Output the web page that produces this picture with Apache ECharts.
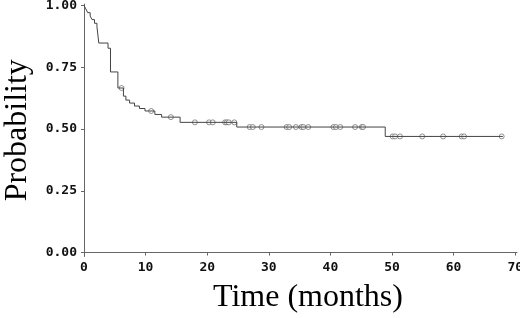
<!DOCTYPE html>
<html>
<head>
<meta charset="utf-8">
<script src="https://cdn.jsdelivr.net/npm/echarts@6/dist/echarts.min.js"></script>
<style>
  html, body { margin: 0; padding: 0; background: #fff; }
  #chart { width: 520px; height: 318px; }
</style>
</head>
<body>
<div id="chart"></div>
<script>
// Kaplan-Meier step points: time of each event (months) and survival after it
const eventTimes = [0, 0.3, 0.6, 1.0, 1.3, 1.7, 2.1, 2.4, 3.9, 4.3, 5.5, 6.4, 6.8, 7.4, 8.2, 9.0, 9.9, 11.5, 12.6, 15.6, 24.8, 48.9, 68.0]
const survival   = [1, 0.986, 0.971, 0.957, 0.943, 0.928, 0.914, 0.848, 0.827, 0.731, 0.666, 0.633, 0.617, 0.605, 0.593, 0.583, 0.573, 0.559, 0.548, 0.527, 0.508, 0.470, 0.470]

// censored observations (months)
const censorTimes = [6.1, 10.9, 14.1, 18.0, 20.3, 20.9, 22.9, 23.2, 23.5, 24.4, 26.9, 27.4, 28.8,
  32.9, 33.3, 34.4, 35.3, 35.6, 36.4, 40.5, 40.9, 41.6, 44.0, 45.1, 45.3,
  50.1, 50.5, 51.3, 54.9, 58.3, 61.3, 61.7, 67.8]

const xTicks = [0, 10, 20, 30, 40, 50, 60, 70]
const yTicks = [0, 0.25, 0.5, 0.75, 1]

const survAt = t => {
  let s = 1
  eventTimes.forEach((e, i) => { if (e <= t) s = survival[i] })
  return s
}

const labelFont = { color: '#111', fontFamily: 'DejaVu Sans Mono', fontWeight: 'bold', fontSize: 13 }
const nameFont = { color: '#000', fontFamily: 'Liberation Serif', fontSize: 32 }

const chart = echarts.init(document.getElementById('chart'))
chart.setOption({
  animation: false,
  grid: { left: 82, right: 3, top: 4, bottom: 61.5, outerBoundsMode: 'none', containLabel: false },
  xAxis: {
    type: 'value',
    min: -0.325,
    max: 70.29,
    name: 'Time (months)',
    nameLocation: 'middle',
    nameGap: 25,
    nameTextStyle: { ...nameFont, padding: [0, 0, 0, 17] },
    axisLine: { lineStyle: { color: '#666', width: 1 } },
    axisTick: { show: true, length: 3, customValues: xTicks, lineStyle: { color: '#666' } },
    axisLabel: { ...labelFont, margin: 5, customValues: xTicks, formatter: v => String(v) },
    splitLine: { show: false }
  },
  yAxis: {
    type: 'value',
    min: -0.016,
    max: 1.006,
    name: 'Probability',
    nameLocation: 'middle',
    nameGap: 48,
    nameTextStyle: nameFont,
    axisLine: { show: true, lineStyle: { color: '#666', width: 1 } },
    axisTick: { show: true, length: 3, customValues: yTicks, lineStyle: { color: '#666' } },
    axisLabel: { ...labelFont, margin: 5, customValues: yTicks, formatter: v => v.toFixed(2) },
    splitLine: { show: false }
  },
  series: [
    {
      type: 'line',
      step: 'end',
      data: eventTimes.map((t, i) => [t, survival[i]]),
      showSymbol: false,
      lineStyle: { color: '#444', width: 1 }
    },
    {
      type: 'scatter',
      data: censorTimes.map(t => [t, survAt(t)]),
      symbol: 'circle',
      symbolSize: 5,
      itemStyle: { color: '#fff', borderColor: '#555', borderWidth: 0.8 }
    }
  ]
})
</script>
</body>
</html>
